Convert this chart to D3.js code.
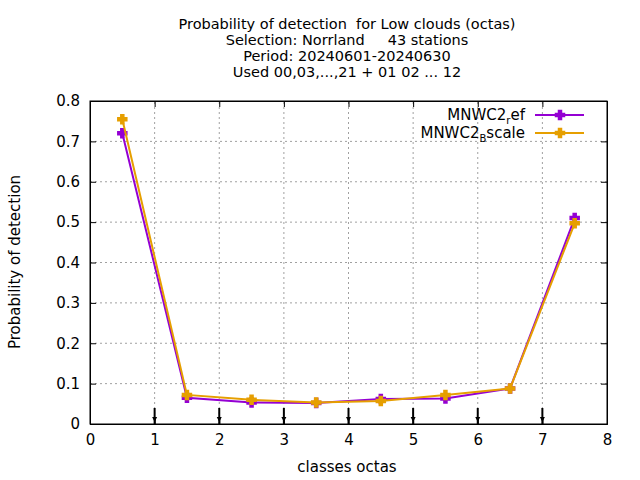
<!DOCTYPE html>
<html><head><meta charset="utf-8">
<script src="https://cdn.jsdelivr.net/npm/d3@7"></script>
<style>body{margin:0;background:#fff}text{font-family:"DejaVu Sans",sans-serif;white-space:pre}</style>
</head><body>
<script>
var classes = [0.5,1.5,2.5,3.5,4.5,5.5,6.5,7.5];
var refVals = [0.72,0.065,0.053,0.052,0.062,0.063,0.088,0.51];
var bscaleVals = [0.755,0.072,0.06,0.053,0.057,0.072,0.088,0.497];
var arrowsAt = [1,2,3,4,5,6,7];
var titleLines = ["Probability of detection  for Low clouds (octas)","Selection: Norrland     43 stations","Period: 20240601-20240630","Used 00,03,...,21 + 01 02 ... 12"];

var W=640,H=480,L=90,R=607,T=101,B=424;
var svg=d3.select("body").append("svg").attr("width",W).attr("height",H);
var x=d3.scaleLinear().domain([0,8]).range([L,R]);
var y=d3.scaleLinear().domain([0,0.8]).range([B,T]);

// grid
var g=svg.append("g").attr("stroke","#a0a0a0").attr("stroke-dasharray","2,3").attr("stroke-width",1);
d3.range(1,8).forEach(function(v){g.append("line").attr("x1",x(v)).attr("x2",x(v)).attr("y1",B).attr("y2",T);});
d3.range(1,8).forEach(function(v){g.append("line").attr("x1",L).attr("x2",R).attr("y1",y(v/10)).attr("y2",y(v/10));});

svg.append("g").attr("transform","translate(0,"+B+")")
  .call(d3.axisBottom(x).ticks(8).tickSize(-6).tickPadding(10).tickFormat(d3.format("d")));
svg.append("g").attr("transform","translate("+L+",0)")
  .call(d3.axisLeft(y).ticks(8).tickSize(-6).tickPadding(10).tickFormat(function(d){return d===0?"0":d3.format(".1f")(d);}));
svg.append("g").attr("transform","translate(0,"+T+")").call(d3.axisTop(x).ticks(8).tickSize(-6).tickFormat(""));
svg.append("g").attr("transform","translate("+R+",0)").call(d3.axisRight(y).ticks(8).tickSize(-6).tickFormat(""));
svg.selectAll(".domain").attr("stroke","#000");
svg.selectAll(".tick text").attr("font-size",15).attr("fill","#000");
svg.append("rect").attr("x",L).attr("y",T).attr("width",R-L).attr("height",B-T).attr("fill","none").attr("stroke","#000");

// arrows
arrowsAt.forEach(function(v){
  svg.append("line").attr("x1",x(v)).attr("x2",x(v)).attr("y1",B-16).attr("y2",B).attr("stroke","#000").attr("stroke-width",2);
  svg.append("path").attr("d","M"+(x(v)-2.5)+","+(B-7)+"L"+(x(v)+2.5)+","+(B-7)+"L"+x(v)+","+(B-2)+"Z").attr("fill","#000");
});

function marker(sel,color){
  sel.append("path").attr("d",d3.symbol(d3.symbolCross,45)).attr("fill",color).attr("stroke",color).attr("stroke-width",1.5);
}
function series(vals,color){
  var line=d3.line().x(function(d,i){return x(classes[i]);}).y(function(d){return y(d);});
  svg.append("path").datum(vals).attr("d",line).attr("fill","none").attr("stroke",color).attr("stroke-width",2);
  vals.forEach(function(d,i){
    marker(svg.append("g").attr("transform","translate("+x(classes[i])+","+y(d)+")"),color);
  });
}
series(refVals,"#9400d3");
series(bscaleVals,"#e69f00");

// legend
function leg(yy,main,sub,rest,color){
  var t=svg.append("text").attr("x",525).attr("y",yy).attr("text-anchor","end").attr("font-size",15);
  t.append("tspan").text(main);
  t.append("tspan").attr("dy",4).attr("font-size",10).text(sub);
  t.append("tspan").attr("dy",-4).text(rest);
  svg.append("line").attr("x1",535).attr("x2",584).attr("y1",yy-5).attr("y2",yy-5).attr("stroke",color).attr("stroke-width",2);
  marker(svg.append("g").attr("transform","translate(560,"+(yy-5)+")"),color);
}
leg(120,"MNWC2","r","ef","#9400d3");
leg(138,"MNWC2","B","scale","#e69f00");

titleLines.forEach(function(s,i){
  svg.append("text").attr("x",347).attr("y",29+i*16).attr("text-anchor","middle").attr("font-size",14.5).text(s);
});
svg.append("text").attr("x",347).attr("y",472).attr("text-anchor","middle").attr("font-size",15).text("classes octas");
svg.append("text").attr("transform","translate(20,262) rotate(-90)").attr("text-anchor","middle").attr("font-size",15).text("Probability of detection");
</script>
</body></html>
